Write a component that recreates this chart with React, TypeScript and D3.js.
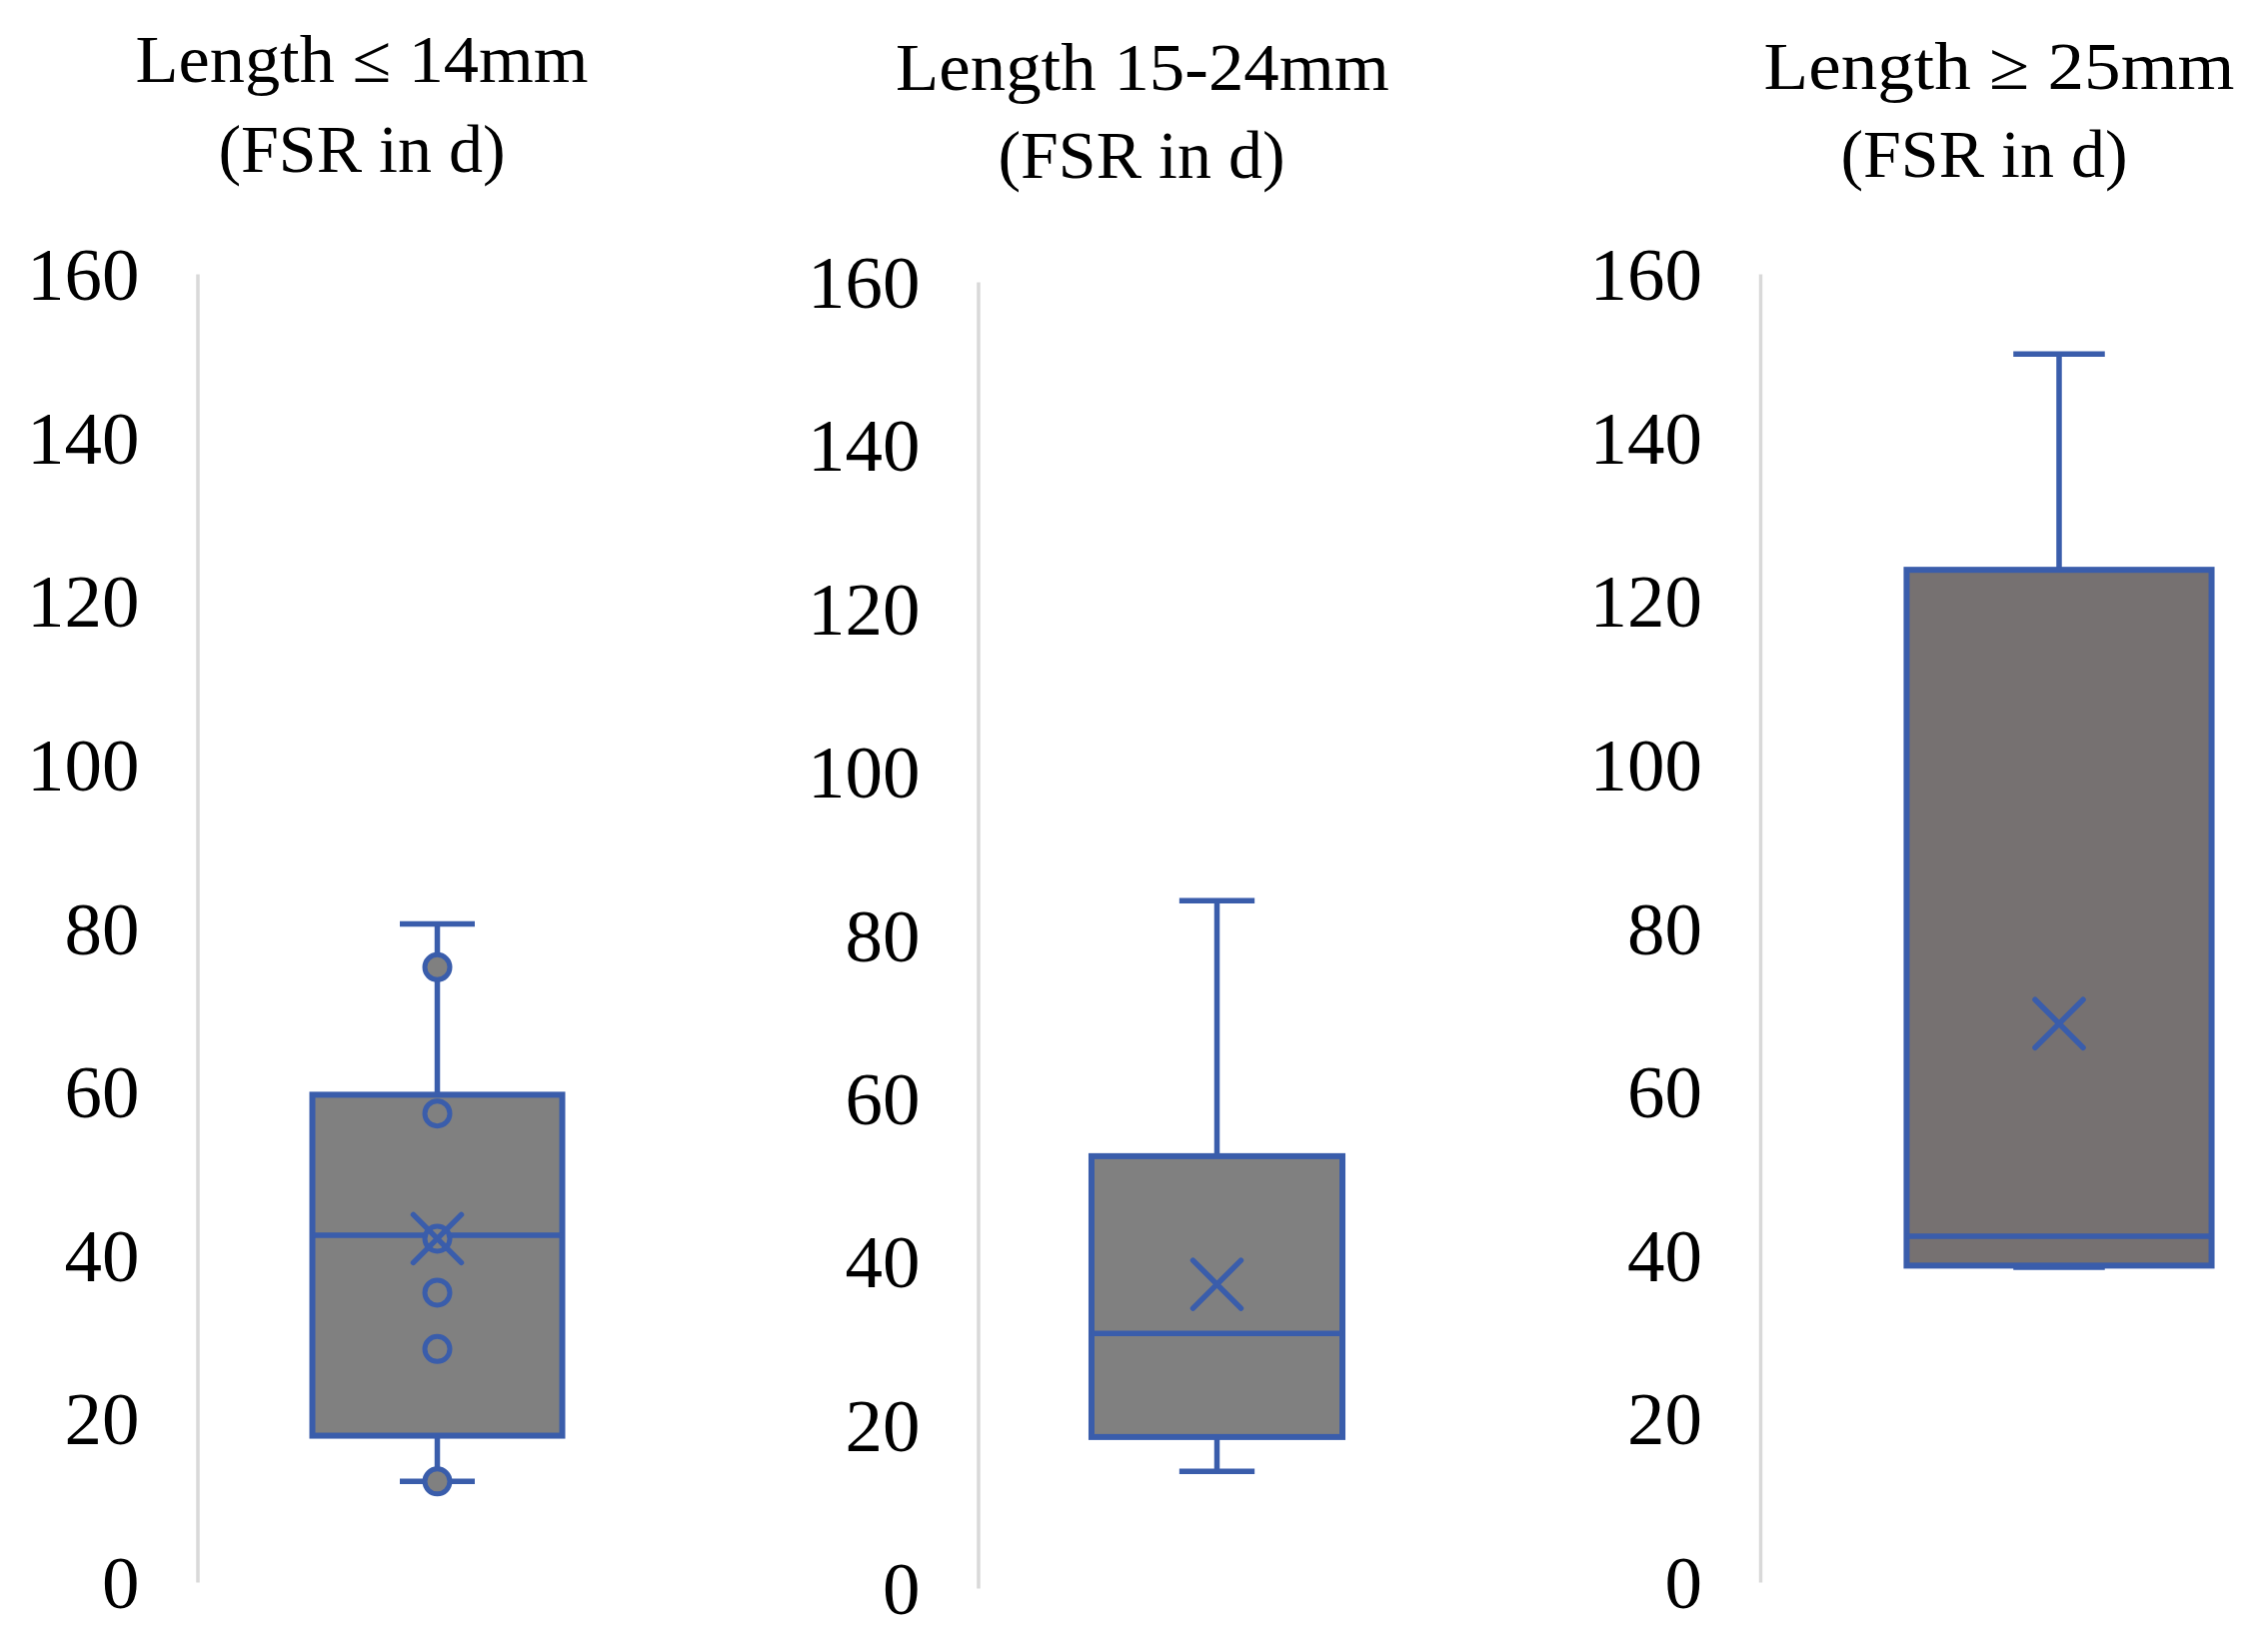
import React, { useEffect, useRef } from "react";
import * as d3 from "d3";

// ---- Data ----
const categories = ["Length ≤ 14mm", "Length 15-24mm", "Length ≥ 25mm"];
const subtitle = "(FSR in d)";
const whiskerMin = [12.3, 14.3, 38.5];
const q1 = [17.9, 18.5, 38.7];
const median = [42.4, 31.2, 42.3];
const q3 = [59.6, 52.9, 123.8];
const whiskerMax = [80.5, 84.2, 150.2];
const mean = [42.0, 37.2, 68.3];
const innerPoints = [[75.2, 57.3, 42.0, 35.4, 28.5, 12.3], [], []];
const yTicks = [0, 20, 40, 60, 80, 100, 120, 140, 160];

// ---- Layout (not data) ----
const panels = [
  { axisX: 197.5, plotW: 480, pad: 0.46, yTop: 274, yBot: 1583, fill: "#808080",
    t1x: 362, t1y: 82, t1w: 453, t2x: 362, t2y: 172 },
  { axisX: 978.5, plotW: 478, pad: 0.452, yTop: 282, yBot: 1589, fill: "#808080",
    t1x: 1143, t1y: 90, t1w: 494, t2x: 1142, t2y: 178 },
  { axisX: 1761, plotW: 598, pad: 0.48, yTop: 274, yBot: 1583, fill: "#767171",
    t1x: 2000, t1y: 89, t1w: 471, t2x: 1985, t2y: 177 },
];

const BLUE = "#3A5DAB";
const FONT = "'Liberation Serif', 'DejaVu Serif', serif";
const SW = 5.5;

export default function App() {
  const ref = useRef<SVGSVGElement | null>(null);

  useEffect(() => {
    document.body.style.margin = "0";
    const svg = d3.select(ref.current);
    svg.selectAll("*").remove();

    panels.forEach((p, i) => {
      const y = d3.scaleLinear().domain([0, 160]).range([p.yBot, p.yTop]);
      const x = d3
        .scaleBand<string>()
        .domain([categories[i]])
        .range([p.axisX, p.axisX + p.plotW])
        .paddingInner(0)
        .paddingOuter(p.pad);

      const g = svg.append("g");

      // titles
      g.append("text")
        .attr("x", p.t1x)
        .attr("y", p.t1y)
        .attr("text-anchor", "middle")
        .attr("font-family", FONT)
        .attr("font-size", 68)
        .attr("fill", "#000")
        .attr("textLength", p.t1w)
        .attr("lengthAdjust", "spacingAndGlyphs")
        .text(categories[i]);
      g.append("text")
        .attr("x", p.t2x)
        .attr("y", p.t2y)
        .attr("text-anchor", "middle")
        .attr("font-family", FONT)
        .attr("font-size", 68)
        .attr("fill", "#000")
        .text(subtitle);

      // axis
      const axis = d3
        .axisLeft(y)
        .tickValues(yTicks)
        .tickSize(0)
        .tickSizeOuter(0)
        .tickPadding(58)
        .tickFormat(d3.format("d"));
      const ag = g.append("g").attr("transform", `translate(${p.axisX},0)`).call(axis);
      ag.select(".domain").attr("stroke", "#D9D9D9").attr("stroke-width", 3.5);
      ag.selectAll(".tick text")
        .attr("font-family", FONT)
        .attr("font-size", 75)
        .attr("fill", "#000")
        .attr("dy", "0.34em");

      // box
      const bx = x(categories[i])!;
      const bw = x.bandwidth();
      const cx = bx + bw / 2;
      const capW = bw * 0.3;

      // whiskers
      g.append("line")
        .attr("x1", cx).attr("x2", cx)
        .attr("y1", y(whiskerMax[i])).attr("y2", y(q3[i]))
        .attr("stroke", BLUE).attr("stroke-width", SW);
      g.append("line")
        .attr("x1", cx).attr("x2", cx)
        .attr("y1", y(whiskerMin[i])).attr("y2", y(q1[i]))
        .attr("stroke", BLUE).attr("stroke-width", SW);
      g.append("line")
        .attr("x1", cx - capW / 2).attr("x2", cx + capW / 2)
        .attr("y1", y(whiskerMax[i])).attr("y2", y(whiskerMax[i]))
        .attr("stroke", BLUE).attr("stroke-width", SW);
      g.append("line")
        .attr("x1", cx - capW / 2).attr("x2", cx + capW / 2)
        .attr("y1", y(whiskerMin[i])).attr("y2", y(whiskerMin[i]))
        .attr("stroke", BLUE).attr("stroke-width", SW);

      g.append("rect")
        .attr("x", bx)
        .attr("width", bw)
        .attr("y", y(q3[i]))
        .attr("height", y(q1[i]) - y(q3[i]))
        .attr("fill", p.fill)
        .attr("stroke", BLUE)
        .attr("stroke-width", 6);

      g.append("line")
        .attr("x1", bx).attr("x2", bx + bw)
        .attr("y1", y(median[i])).attr("y2", y(median[i]))
        .attr("stroke", BLUE).attr("stroke-width", SW);

      // inner points
      g.selectAll("circle.pt")
        .data(innerPoints[i])
        .enter()
        .append("circle")
        .attr("class", "pt")
        .attr("cx", cx)
        .attr("cy", (d) => y(d))
        .attr("r", 12.5)
        .attr("fill", "#808080")
        .attr("stroke", BLUE)
        .attr("stroke-width", 5);

      // mean marker
      const my = y(mean[i]);
      const h = 24;
      g.append("path")
        .attr("d", `M${cx - h},${my - h}L${cx + h},${my + h}M${cx - h},${my + h}L${cx + h},${my - h}`)
        .attr("stroke", BLUE)
        .attr("stroke-width", SW)
        .attr("stroke-linecap", "round")
        .attr("fill", "none");
    });
  }, []);

  return (
    <svg
      ref={ref}
      width={2259}
      height={1653}
      style={{ display: "block", background: "#fff" }}
    />
  );
}
